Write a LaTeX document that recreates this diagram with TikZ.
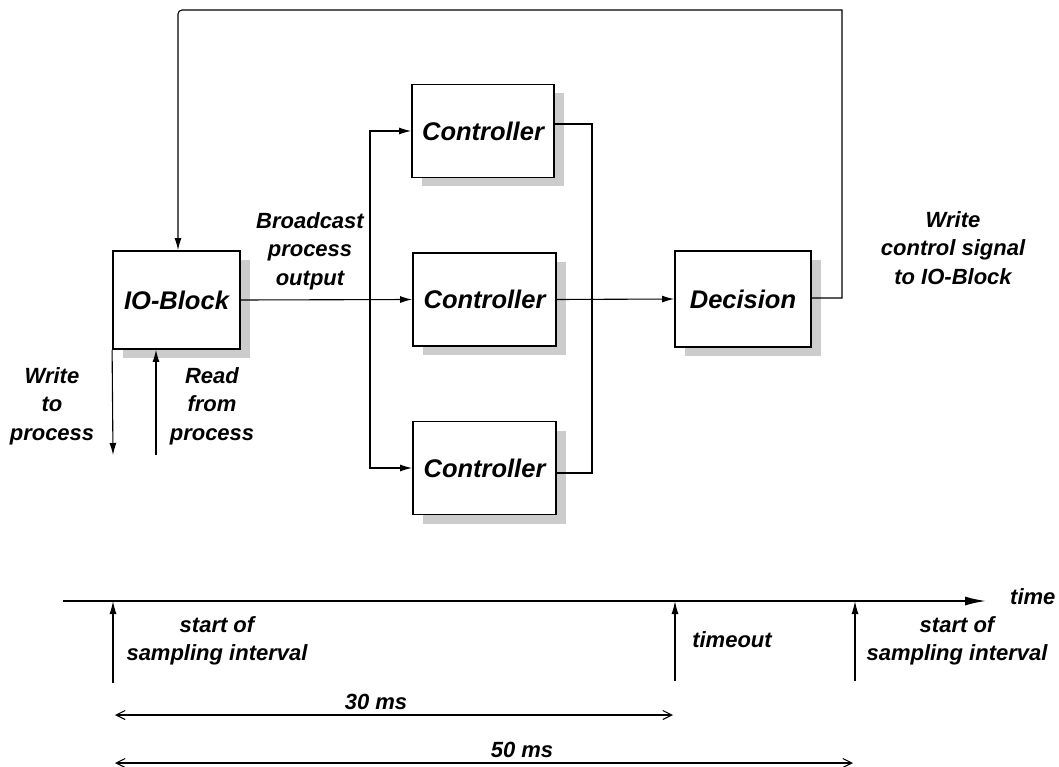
\documentclass[tikz,border=0pt]{standalone}
\usepackage{fontspec}
\setmainfont{Liberation Sans}
\usetikzlibrary{arrows.meta,shadows,calc}
\begin{document}
\begin{tikzpicture}[x=1pt,y=-1pt,
  lbl/.style={font=\fontsize{22}{28.5}\selectfont\bfseries\itshape, align=center, inner sep=0pt},
  blk/.style={draw, line width=1.8pt, fill=white, minimum width=#1, inner sep=0pt,
    font=\fontsize{25.5}{30}\selectfont\bfseries\itshape,
    general shadow={fill=gray!40, shadow xshift=10pt, shadow yshift=-9pt}},
  con/.style={line width=1.1pt},
  arr/.style={con, -{Latex[length=12pt,width=7pt]}},
  tarr/.style={line width=1.2pt, -{Latex[length=13pt,width=7pt]}},
  dim/.style={line width=1.1pt, {Straight Barb[length=9pt,width=9pt]}-{Straight Barb[length=9pt,width=9pt]}}
]
\useasboundingbox (0,0) rectangle (1059,767);

% blocks
\node[blk=127pt, minimum height=98pt] (io) at (176.5,300) {IO-Block};
\node[blk=142pt, minimum height=93pt] (c1) at (483,131) {Controller};
\node[blk=143pt, minimum height=93pt] (c2) at (484.5,299.5) {Controller};
\node[blk=143pt, minimum height=93pt] (c3) at (484.5,468) {Controller};
\node[blk=136pt, minimum height=96pt] (dec) at (743,299) {Decision};

% broadcast bus
\coordinate (bl) at (370,300);
\draw[arr] (io.east |- bl) -- (c2.west);
\draw[arr] (bl) |- (c1.west);
\draw[arr] (bl) |- (c3.west);

% collecting bus
\coordinate (r1) at (592,124);
\coordinate (r3) at (592,473);
\draw[con] (c1.east |- r1) -- (r1) -- (r3) -- (c3.east |- r3);
\draw[arr] (c2.east) -- (dec.west);

% feedback
\coordinate (fr) at (842,298);
\coordinate (ftr) at (842,10);
\coordinate (ftl) at (178,10);
\draw[arr] (dec.east |- fr) -- (fr) -- (ftr) [rounded corners=4pt] -- (ftl) [sharp corners] -- (io.north -| ftl);

% process IO
\coordinate (wp) at (113,455);
\coordinate (rp) at (156,455);
\draw[arr] (io.south west) -- (wp);
\draw[arr] (rp) -- (io.south -| rp);

% labels
\node[lbl] (lwp) at (52,406) {Write\\to\\process};
\node[lbl] (lrp) at (212,406) {Read\\from\\process};
\node[lbl] (lbc) at (310,251) {Broadcast\\process\\output};
\node[lbl] (lwc) at (953,248) {Write\\control signal\\to IO-Block};

% time line
\coordinate (t0) at (63,601);
\coordinate (t1) at (987,601);
\draw[line width=2.4pt, -{Latex[length=22pt,width=9pt]}] (t0) -- (t1);
\node[lbl, anchor=west] (ltime) at (1010,597) {time};

\coordinate (a0) at (113,683);
\coordinate (a1) at (675,681);
\coordinate (a2) at (855,681);
\draw[tarr] (a0) -- (a0 |- t0);
\draw[tarr] (a1) -- (a1 |- t0);
\draw[tarr] (a2) -- (a2 |- t0);

\node[lbl] (ls1) at (217,641) {start of\\sampling interval};
\node[lbl] (lto) at (732,640) {timeout};
\node[lbl] (ls2) at (957,641) {start of\\sampling interval};

\coordinate (d30a) at (115,715);
\coordinate (d30b) at (673,715);
\coordinate (d50a) at (115,763);
\coordinate (d50b) at (853,763);
\draw[dim] (d30a) -- (d30b);
\draw[dim] (d50a) -- (d50b);
\node[lbl] (l30) at (376,702) {30 ms};
\node[lbl] (l50) at (522,750) {50 ms};
\end{tikzpicture}
\end{document}
